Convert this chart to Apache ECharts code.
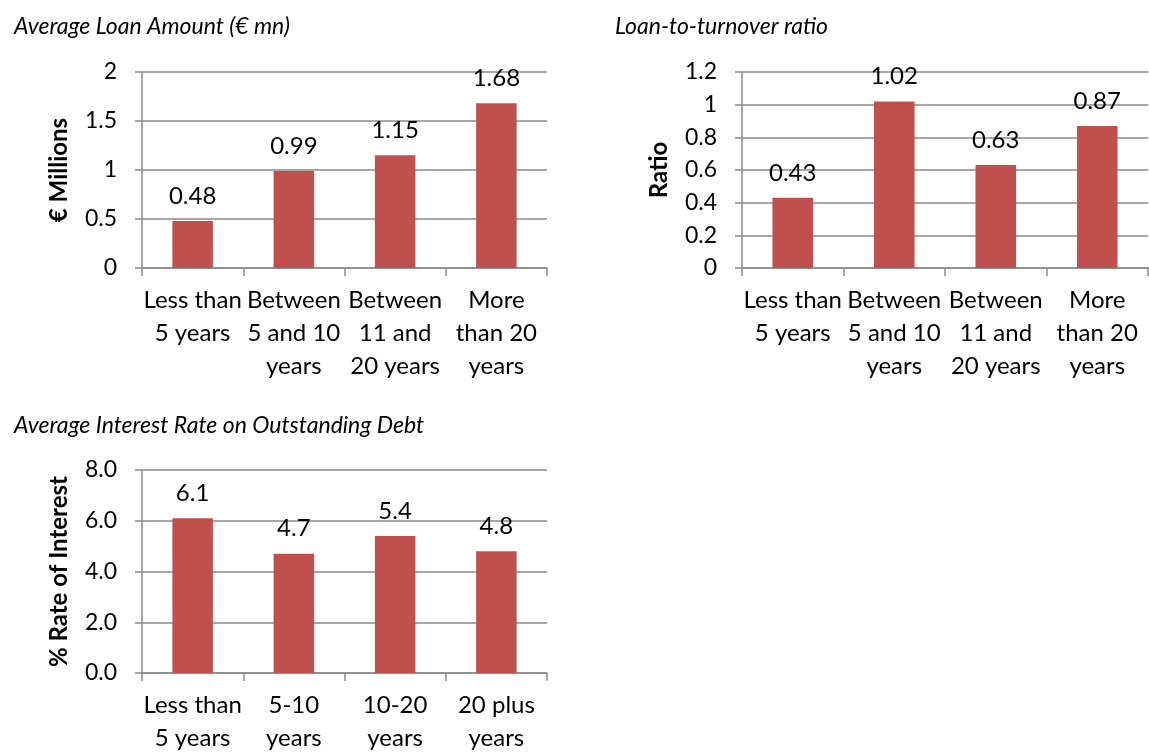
<!DOCTYPE html>
<html>
<head>
<meta charset="utf-8">
<script src="https://cdn.jsdelivr.net/npm/echarts@6/dist/echarts.min.js"></script>
<style>
html,body{margin:0;padding:0;background:#fff;}
#c{width:1149px;height:755px;}
</style>
</head>
<body>
<div id="c"></div>
<script>
const titles = ["Average Loan Amount (\u20ac mn)", "Loan-to-turnover ratio", "Average Interest Rate on Outstanding Debt"];
const axisNames = ["\u20ac Millions", "Ratio", "% Rate of Interest"];
const categoriesLoan = ["Less than\n5 years", "Between\n5 and 10\nyears", "Between\n11 and\n20 years", "More\nthan 20\nyears"];
const categoriesRate = ["Less than\n5 years", "5-10\nyears", "10-20\nyears", "20 plus\nyears"];
const loanAmount = [0.48, 0.99, 1.15, 1.68];
const loanToTurnover = [0.43, 1.02, 0.63, 0.87];
const interestRate = [6.1, 4.7, 5.4, 4.8];
const labelAmount = ["0.48", "0.99", "1.15", "1.68"];
const labelRatio = ["0.43", "1.02", "0.63", "0.87"];
const labelRate = ["6.1", "4.7", "5.4", "4.8"];

const FONT = 'Lato';
const GRAY = '#8a8a8a';
const BAR = '#C0504D';

function yAxis(gi, max, interval, name, fmt) {
  return {
    type: 'value', gridIndex: gi, min: 0, max: max, interval: interval,
    name: name, nameLocation: 'middle', nameGap: 71,
    nameTextStyle: { fontFamily: FONT, fontWeight: 'bold', fontSize: 24, color: '#000' },
    axisLine: { show: true, lineStyle: { color: GRAY, width: 1.5 } },
    axisTick: { show: true, length: 7, lineStyle: { color: GRAY, width: 1.5 } },
    splitLine: { show: true, lineStyle: { color: GRAY, width: 1.5 } },
    axisLabel: { fontFamily: FONT, fontSize: 23, color: '#000', margin: 25, formatter: fmt }
  };
}
function xAxis(gi, cats) {
  return {
    type: 'category', gridIndex: gi, data: cats,
    axisLine: { show: true, lineStyle: { color: GRAY, width: 1.5 } },
    axisTick: { show: true, length: 8, alignWithLabel: false, lineStyle: { color: GRAY, width: 1.5 } },
    axisLabel: { fontFamily: FONT, fontSize: 24, color: '#000', margin: 16, lineHeight: 33, interval: 0 }
  };
}
function bar(gi, data, labels) {
  return {
    type: 'bar', xAxisIndex: gi, yAxisIndex: gi, data: data, barWidth: '40%',
    itemStyle: { color: BAR },
    label: {
      show: true, position: 'top', distance: 13, fontFamily: FONT, fontSize: 24, color: '#000',
      formatter: p => labels[p.dataIndex]
    }
  };
}

const titleStyle = { fontFamily: FONT, fontStyle: 'italic', fontWeight: 'normal', fontSize: 23, color: '#000' };
const chart = echarts.init(document.getElementById('c'));
chart.setOption({
  animation: false,
  backgroundColor: '#fff',
  title: [
    { text: titles[0], left: 9, top: 10, textStyle: titleStyle },
    { text: titles[1], left: 610, top: 10, textStyle: titleStyle },
    { text: titles[2], left: 9, top: 409, textStyle: titleStyle }
  ],
  grid: [
    { left: 142, top: 72, width: 405, height: 196 },
    { left: 742, top: 72, width: 406, height: 196 },
    { left: 142, top: 470, width: 405, height: 207 }
  ],
  xAxis: [xAxis(0, categoriesLoan), xAxis(1, categoriesLoan), xAxis(2, categoriesRate)],
  yAxis: [
    yAxis(0, 2, 0.5, axisNames[0], v => String(v)),
    yAxis(1, 1.2, 0.2, axisNames[1], v => String(Math.round(v * 10) / 10)),
    yAxis(2, 8, 2, axisNames[2], v => v.toFixed(1))
  ],
  series: [bar(0, loanAmount, labelAmount), bar(1, loanToTurnover, labelRatio), bar(2, interestRate, labelRate)]
});
</script>
</body>
</html>
